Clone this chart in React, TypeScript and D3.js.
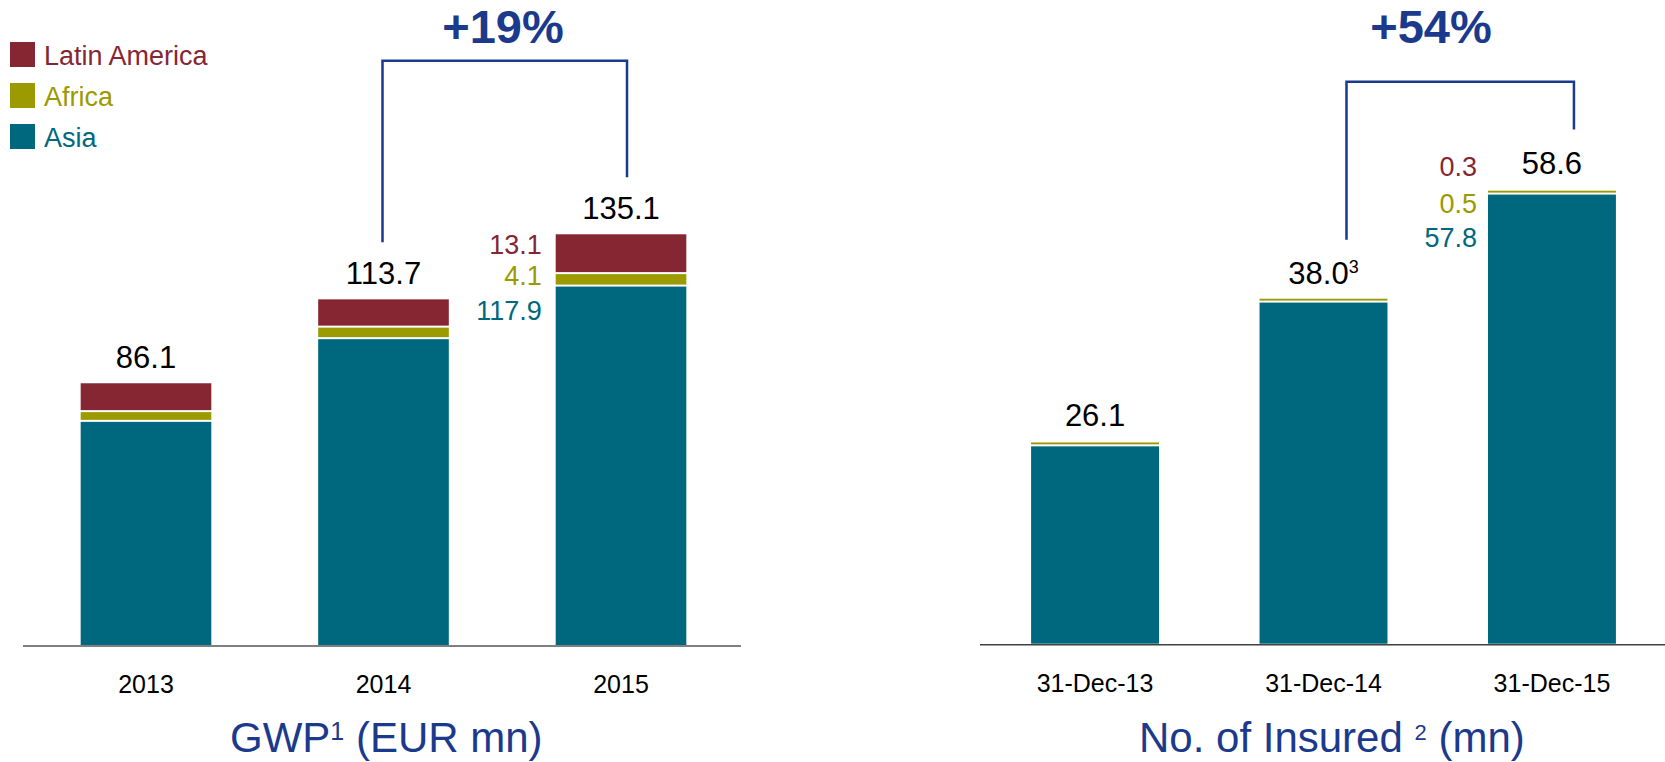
import * as d3 from "d3";

// GWP (EUR mn) by region
const gwpYears = ["2013", "2014", "2015"];
const gwpAsia = [73.4, 100.6, 117.9];
const gwpAfrica = [3.2, 3.8, 4.1];
const gwpLatam = [9.5, 9.3, 13.1];
const gwpTotals = ["86.1", "113.7", "135.1"];
const gwpNotes = ["", "", ""];

// No. of insured (mn), heights as drawn in the source
const insuredDates = ["31-Dec-13", "31-Dec-14", "31-Dec-15"];
const insuredAsia = [25.4, 43.9, 57.8];
const insuredAfrica = [0.5, 0.5, 0.5];
const insuredLatam = [0.2, 0, 0.3];
const insuredTotals = ["26.1", "38.0", "58.6"];
const insuredNotes = ["", "3", ""];

const legendNames = ["Latin America", "Africa", "Asia"];

const BLUE = "#1B3A8C";
const RED = "#862633";
const OLIVE = "#9B9A00";
const TEAL = "#00687E";
const FONT = "'Liberation Sans', Arial, Helvetica, sans-serif";

const keys = ["asia", "africa", "latam"];
const colors: Record<string, string> = { asia: TEAL, africa: OLIVE, latam: RED };

type Cfg = {
  xRange: [number, number];
  padIn: number;
  padOut: number;
  base: number;
  yMax: number;
  yTop: number;
  axis: [number, number];
  axisColor: string;
  axisWidth: number;
  bracketTop: number;
  legGap: number;
  bracketOff: [number, number];
  growth: string;
  growthX: number;
  totalGap: number;
  sideOff: number[];
  sideGap: number;
  title: [string, string, string];
  titleX: number;
  supSize: number;
};

function Panel({
  cats, asia, africa, latam, totals, notes, cfg,
}: {
  cats: string[]; asia: number[]; africa: number[]; latam: number[];
  totals: string[]; notes: string[]; cfg: Cfg;
}) {
  const rows = cats.map((c, i) => ({ cat: c, asia: asia[i], africa: africa[i], latam: latam[i] }));
  const series = d3.stack<any>().keys(keys)(rows);

  const x = d3.scaleBand().domain(cats).range(cfg.xRange).paddingInner(cfg.padIn).paddingOuter(cfg.padOut);
  const y = d3.scaleLinear().domain([0, cfg.yMax]).range([cfg.base, cfg.yTop]);
  const bw = x.bandwidth();
  const cx = (c: string) => (x(c) ?? 0) + bw / 2;
  const topOf = (i: number) => y(series[series.length - 1][i][1]);

  const last = cats.length - 1;
  const sideVals = [latam[last], africa[last], asia[last]];
  const sideColors = [RED, OLIVE, TEAL];

  const bx1 = cx(cats[1]) + cfg.bracketOff[0];
  const bx2 = cx(cats[2]) + cfg.bracketOff[1];

  return (
    <g>
      {series.map((s, k) =>
        s.map((d, i) => {
          const y1 = y(d[1]);
          const h = y(d[0]) - y1 - (k > 0 ? 2 : 0);
          if (h < 1) return null;
          return (
            <rect key={`${k}-${i}`} x={x(cats[i])} y={y1} width={bw} height={h} fill={colors[s.key]} />
          );
        })
      )}

      <line x1={cfg.axis[0]} x2={cfg.axis[1]} y1={cfg.base + 1} y2={cfg.base + 1}
        stroke={cfg.axisColor} strokeWidth={cfg.axisWidth} />

      {cats.map((c) => (
        <text key={c} x={cx(c)} y={cfg.base + 48} textAnchor="middle" fontSize={25} fill="#000">
          {c}
        </text>
      ))}

      {totals.map((t, i) => (
        <text key={t} x={cx(cats[i])} y={topOf(i) - cfg.totalGap} textAnchor="middle" fontSize={31} fill="#000">
          {t}
          {notes[i] && (
            <tspan fontSize={18} dy={-11}>{notes[i]}</tspan>
          )}
        </text>
      ))}

      {sideVals.map((v, k) => (
        <text key={k} x={(x(cats[last]) ?? 0) - cfg.sideGap} y={topOf(last) + cfg.sideOff[k]}
          textAnchor="end" fontSize={27} fill={sideColors[k]}>
          {v.toFixed(1)}
        </text>
      ))}

      <path
        d={`M${bx1},${topOf(1) - cfg.legGap}V${cfg.bracketTop}H${bx2}V${topOf(2) - cfg.legGap}`}
        fill="none" stroke={BLUE} strokeWidth={2.5}
      />
      <text x={cfg.growthX} y={43} textAnchor="middle" fontSize={47} fontWeight="bold" fill={BLUE}>
        {cfg.growth}
      </text>

      <text x={cfg.titleX} y={752} fontSize={42} fill={BLUE}>
        {cfg.title[0]}
        <tspan fontSize={cfg.supSize} dy={-12}>{cfg.title[1]}</tspan>
        <tspan dy={12}>{cfg.title[2]}</tspan>
      </text>
    </g>
  );
}

const gwpCfg: Cfg = {
  xRange: [27, 740], padIn: 0.45, padOut: 0.226,
  base: 645, yMax: 150, yTop: 645 - 150 * 3.04,
  axis: [23, 741], axisColor: "#808080", axisWidth: 2,
  bracketTop: 60.7, legGap: 57, bracketOff: [-1, 6],
  growth: "+19%", growthX: 503,
  totalGap: 15, sideOff: [19.5, 51, 85.5], sideGap: 14,
  title: ["GWP", "1", " (EUR mn)"], titleX: 230, supSize: 25,
};

const insuredCfg: Cfg = {
  xRange: [979, 1668], padIn: 0.44, padOut: 0.228,
  base: 643.7, yMax: 60, yTop: 643.7 - 60 * 7.77,
  axis: [980, 1665], axisColor: "#404040", axisWidth: 1.5,
  bracketTop: 81.7, legGap: 59, bracketOff: [23, 22],
  growth: "+54%", growthX: 1431,
  totalGap: 14.5, sideOff: [-12, 25, 58.5], sideGap: 11,
  title: ["No. of Insured ", "2", " (mn)"], titleX: 1139, supSize: 22,
};

export default function App() {
  const legendColors = [RED, OLIVE, TEAL];
  const ly = d3.scaleLinear().domain([0, 2]).range([42, 124]);
  return (
    <svg width={1665} height={762} style={{ position: "absolute", left: 0, top: 0, background: "#fff" }}
      fontFamily={FONT}>
      {legendNames.map((n, i) => (
        <g key={n}>
          <rect x={10} y={ly(i)} width={25} height={25} fill={legendColors[i]} />
          <text x={44} y={ly(i) + 23} fontSize={27} fill={legendColors[i]}>{n}</text>
        </g>
      ))}
      <Panel cats={gwpYears} asia={gwpAsia} africa={gwpAfrica} latam={gwpLatam}
        totals={gwpTotals} notes={gwpNotes} cfg={gwpCfg} />
      <Panel cats={insuredDates} asia={insuredAsia} africa={insuredAfrica} latam={insuredLatam}
        totals={insuredTotals} notes={insuredNotes} cfg={insuredCfg} />
    </svg>
  );
}
